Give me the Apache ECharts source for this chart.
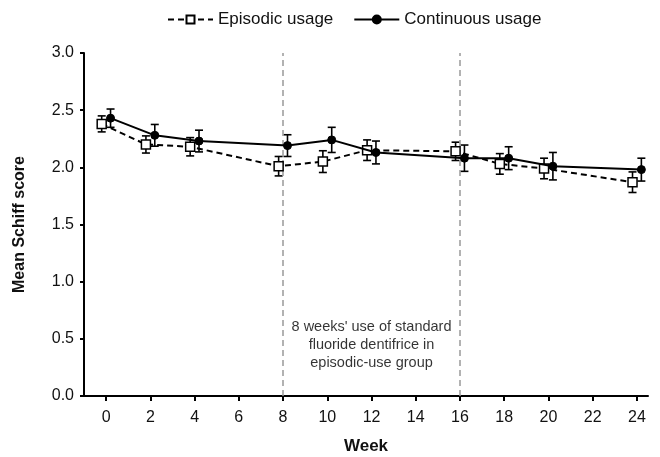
<!DOCTYPE html>
<html>
<head>
<meta charset="utf-8">
<script src="https://cdn.jsdelivr.net/npm/echarts@6/dist/echarts.min.js"></script>
<style>html,body{margin:0;padding:0;background:#fff}#c{width:660px;height:457px}</style>
</head>
<body>
<div id="c"></div>
<script>
const weeks = [0, 2, 4, 8, 10, 12, 16, 18, 20, 24];
const episodicMean = [2.38, 2.20, 2.18, 2.01, 2.05, 2.15, 2.14, 2.03, 1.99, 1.87];
const episodicErr = [0.07, 0.075, 0.08, 0.085, 0.095, 0.09, 0.08, 0.09, 0.09, 0.09];
const continuousMean = [2.43, 2.28, 2.23, 2.19, 2.24, 2.13, 2.08, 2.08, 2.01, 1.98];
const continuousErr = [0.08, 0.095, 0.095, 0.095, 0.11, 0.10, 0.115, 0.10, 0.12, 0.10];
const tickWeeks = [0, 2, 4, 6, 8, 10, 12, 14, 16, 18, 20, 22, 24];
const phaseLines = [8, 16];
const annotation = "8 weeks' use of standard\nfluoride dentifrice in\nepisodic-use group";
const annotationAt = [12, 0.45];

const FONT = "'Liberation Sans', Arial, sans-serif";
const OFF = 0.2;
const pts = (m, off) => weeks.map((w, i) => [w + off, m[i]]);
const errs = (m, e, off) => weeks.map((w, i) => [w + off, m[i] - e[i], m[i] + e[i]]);

function errRender(params, api) {
  const x = api.value(0), lo = api.value(1), hi = api.value(2);
  const a = api.coord([x, lo]), b = api.coord([x, hi]);
  const w = 4;
  const st = { stroke: '#000', lineWidth: 1.6 };
  return { type: 'group', children: [
    { type: 'line', shape: { x1: a[0], y1: a[1], x2: b[0], y2: b[1] }, style: st },
    { type: 'line', shape: { x1: a[0] - w, y1: a[1], x2: a[0] + w, y2: a[1] }, style: st },
    { type: 'line', shape: { x1: b[0] - w, y1: b[1], x2: b[0] + w, y2: b[1] }, style: st }
  ]};
}

const chart = echarts.init(document.getElementById('c'));
chart.setOption({
  animation: false,
  textStyle: { fontFamily: FONT },
  legend: {
    top: 6, left: 162, itemWidth: 45, itemHeight: 10, itemGap: 20,
    textStyle: { fontSize: 17, color: '#111', fontFamily: FONT },
    data: ['Episodic usage', 'Continuous usage']
  },
  grid: { left: 84, right: 12, top: 53, bottom: 61, outerBoundsMode: 'none', containLabel: false },
  xAxis: {
    type: 'value', min: -1, max: 24.5,
    name: 'Week', nameLocation: 'middle', nameGap: 42,
    nameTextStyle: { fontSize: 17, fontWeight: 'bold', color: '#111', fontFamily: FONT },
    axisLine: { lineStyle: { color: '#000', width: 2 } },
    axisTick: { show: true, length: 5, lineStyle: { color: '#000', width: 2 }, customValues: tickWeeks },
    axisLabel: { fontSize: 16, color: '#111', margin: 14, customValues: tickWeeks },
    splitLine: { show: false }
  },
  yAxis: {
    type: 'value', min: 0, max: 3, interval: 0.5,
    name: 'Mean Schiff score', nameLocation: 'middle', nameGap: 56,
    nameTextStyle: { fontSize: 16, fontWeight: 'bold', color: '#111', fontFamily: FONT },
    axisLine: { show: true, onZero: false, lineStyle: { color: '#000', width: 2 } },
    axisTick: { show: true, length: 4, lineStyle: { color: '#000', width: 2 } },
    axisLabel: { fontSize: 16, color: '#111', margin: 10, formatter: v => v.toFixed(1) },
    splitLine: { show: false }
  },
  series: [
    {
      name: 'Episodic usage', type: 'line', data: pts(episodicMean, -OFF), z: 5,
      symbol: 'rect', symbolSize: 9,
      lineStyle: { color: '#000', width: 2, type: [6, 4] },
      itemStyle: { color: '#fff', borderColor: '#000', borderWidth: 1.5 },
      markLine: {
        silent: true, symbol: 'none', label: { show: false },
        lineStyle: { color: '#999', type: [6, 4], width: 1.5 },
        data: phaseLines.map(v => ({ xAxis: v }))
      }
    },
    {
      name: 'Continuous usage', type: 'line', data: pts(continuousMean, OFF), z: 6,
      symbol: 'circle', symbolSize: 8,
      lineStyle: { color: '#000', width: 2 },
      itemStyle: { color: '#000', borderColor: '#000', borderWidth: 1 }
    },
    { type: 'custom', renderItem: errRender, data: errs(episodicMean, episodicErr, -OFF), encode: { x: 0, y: [1, 2] }, z: 3, silent: true },
    { type: 'custom', renderItem: errRender, data: errs(continuousMean, continuousErr, OFF), encode: { x: 0, y: [1, 2] }, z: 3, silent: true },
    {
      type: 'scatter', data: [annotationAt], symbolSize: 0, silent: true,
      label: { show: true, position: 'inside', formatter: annotation, fontSize: 14.5, lineHeight: 18, color: '#000', align: 'center', fontFamily: FONT }
    }
  ]
});
</script>
</body>
</html>
